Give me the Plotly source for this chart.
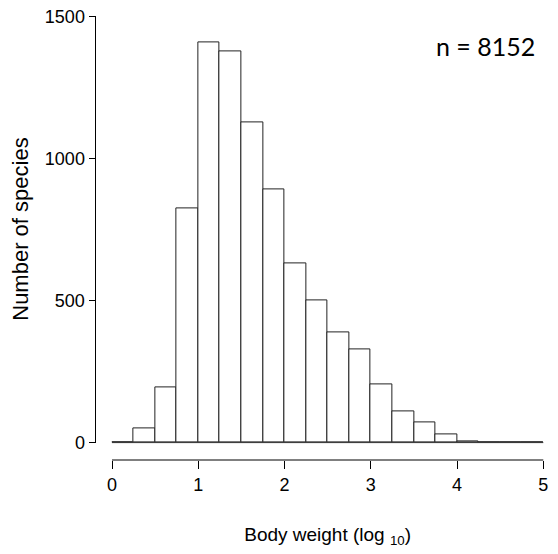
import plotly.graph_objects as go

# Histogram data (log10 body weight, bins of width 0.25)
bin_edges = [0.0, 0.25, 0.5, 0.75, 1.0, 1.25, 1.5, 1.75, 2.0, 2.25, 2.5,
             2.75, 3.0, 3.25, 3.5, 3.75, 4.0, 4.25, 4.5, 4.75, 5.0]
counts = [0, 50, 195, 825, 1410, 1380, 1130, 893, 630, 502,
          388, 330, 205, 110, 72, 28, 3, 1, 0, 0]
x_ticks = [0, 1, 2, 3, 4, 5]
y_ticks = [0, 500, 1000, 1500]
n_label = "n = 8152"
y_title = "Number of species"
x_title = "Body weight (log <sub>10</sub>)"

centers = [(bin_edges[i] + bin_edges[i + 1]) / 2 for i in range(len(counts))]
widths = [bin_edges[i + 1] - bin_edges[i] for i in range(len(counts))]

W, H = 558, 554
FONT = "Liberation Sans, Arial, sans-serif"

fig = go.Figure()
# baseline (zero-count bins drawn as flat line, like R's hist)
fig.add_trace(go.Scatter(
    x=[bin_edges[0], bin_edges[-1]], y=[0, 0], mode="lines",
    line=dict(color="#333333", width=1), hoverinfo="skip", showlegend=False))
fig.add_trace(go.Bar(
    x=centers, y=counts, width=widths,
    marker=dict(color="white", line=dict(color="#222222", width=1)),
    showlegend=False))

# pixel-mapping helpers
x0px, x5px = 112.0, 543.3
y0px, y1500px = 444.0, 16.0
xr = [-0.1, 5.1]
ppx = (x5px - x0px) / (x_ticks[-1] - x_ticks[0])
xdom = [(x0px + (xr[0] - x_ticks[0]) * ppx) / W, (x0px + (xr[1] - x_ticks[0]) * ppx) / W]
yr = [-30, 1530]
ppy = (y0px - y1500px) / (y_ticks[-1] - y_ticks[0])
ydom = [(H - (y0px - (yr[0] - y_ticks[0]) * ppy)) / H, (H - (y0px - (yr[1] - y_ticks[0]) * ppy)) / H]

xaxis_pos = (H - 461.5) / H
yaxis_pos = 95.5 / W

fig.update_layout(
    width=W, height=H,
    margin=dict(l=0, r=0, t=0, b=0),
    paper_bgcolor="white", plot_bgcolor="white",
    font=dict(family=FONT, size=18, color="black"),
    bargap=0,
    xaxis=dict(
        domain=xdom, range=xr, anchor="free", position=xaxis_pos,
        showline=False, showgrid=False, zeroline=False,
        ticks="outside", ticklen=8, tickwidth=1, tickcolor="black",
        tickmode="array", tickvals=x_ticks, ticktext=[str(v) for v in x_ticks],
        tickfont=dict(size=18, family=FONT, color="black"),
        title=dict(text=x_title,
                   font=dict(size=19, family=FONT, color="black"), standoff=34),
    ),
    yaxis=dict(
        domain=ydom, range=yr, anchor="free", position=yaxis_pos,
        showline=False, showgrid=False, zeroline=False,
        ticks="outside", ticklen=7, tickwidth=1, tickcolor="black",
        tickmode="array", tickvals=y_ticks, ticktext=[str(v) for v in y_ticks],
        tickfont=dict(size=18, family=FONT, color="black"),
    ),
    shapes=[
        # x axis line spanning first to last tick (R style)
        dict(type="line", xref="x", yref="paper",
             x0=x_ticks[0], x1=x_ticks[-1], y0=xaxis_pos, y1=xaxis_pos,
             line=dict(color="black", width=1)),
        # y axis line spanning first to last tick
        dict(type="line", xref="paper", yref="y",
             x0=yaxis_pos, x1=yaxis_pos, y0=y_ticks[0], y1=y_ticks[-1],
             line=dict(color="black", width=1)),
    ],
    annotations=[
        dict(text=n_label, xref="paper", yref="paper",
             x=537 / W, y=(H - 45) / H, xanchor="right", yanchor="middle",
             showarrow=False, font=dict(family="Lato, Open Sans, sans-serif", size=25, color="black")),
        dict(text=y_title, xref="paper", yref="y",
             x=21 / W, y=(y_ticks[0] + y_ticks[-1]) / 2, xanchor="center", yanchor="middle",
             textangle=-90, showarrow=False,
             font=dict(family=FONT, size=22, color="black")),
    ],
)

fig.write_html("out.html")
